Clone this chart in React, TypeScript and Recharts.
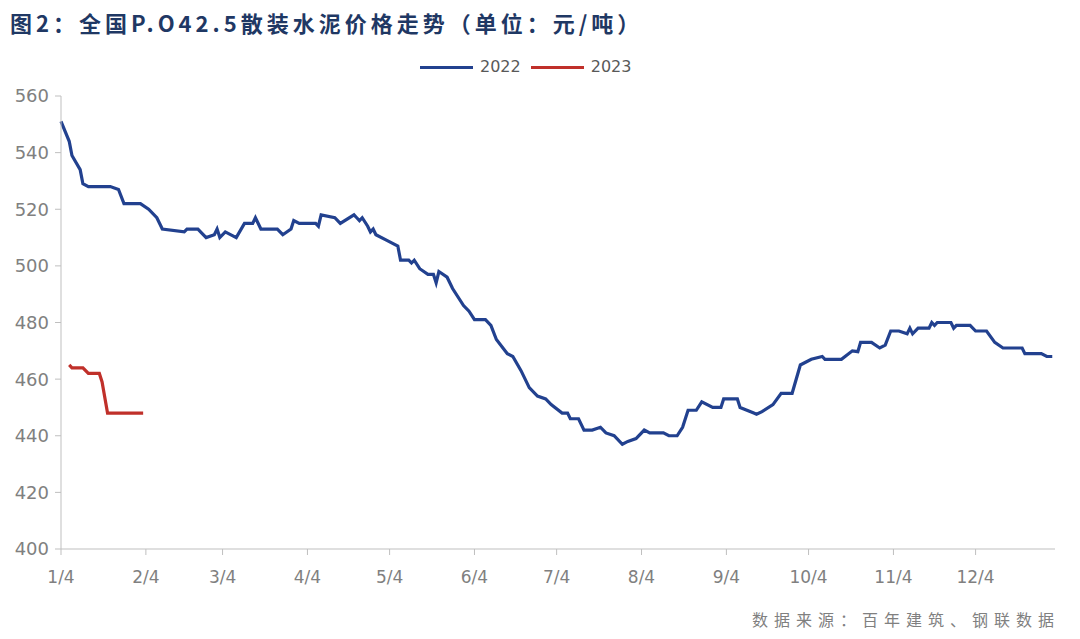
import React from 'react';
import { LineChart, Line, XAxis, YAxis } from 'recharts';

const days2022 = [0,3,4,7,8,10,18,21,23,29,32,35,37,45,46,50,53,56,57,58,60,64,67,70,71,73,79,81,84,85,87,93,94,95,100,102,107,108,109,110,112,113,114,115,119,123,124,127,128,129,131,134,136,137,138,141,143,147,149,151,155,157,159,163,165,168,171,174,177,179,183,185,186,189,191,194,197,199,202,205,207,210,213,215,220,222,225,227,229,232,234,238,241,242,247,248,253,254,256,260,263,267,270,274,278,279,285,289,291,292,296,299,301,303,306,309,310,311,313,317,318,319,320,325,326,327,332,334,338,341,344,351,352,358,360,362];
const prices2022 = [551,544,539,534,529,528,528,527,522,522,520,517,513,512,513,513,510,511,513,510,512,510,515,515,517,513,513,511,513,516,515,515,514,518,517,515,518,517,516,517,514,512,513,511,509,507,502,502,501,502,499,497,497,494,498,496,492,486,484,481,481,479,474,469,468,463,457,454,453,451,448,448,446,446,442,442,443,441,440,437,438,439,442,441,441,440,440,443,449,449,452,450,450,453,453,450,448,447.6,448.5,451,455,455,465,467,468,467,467,470,469.7,473,473,471,472,477,477,476,478,476,478,478,480,479,480,480,478,479,479,477,477,473,471,471,469,469,468,468];

const days2023 = [3,4,8,10,14,15,17,30];
const prices2023 = [465,464,464,462,462,459,448,448];

const tickDays = [0,31,59,90,120,151,181,212,243,273,304,334];
const tickLabels = ['1/4','2/4','3/4','4/4','5/4','6/4','7/4','8/4','9/4','10/4','11/4','12/4'];
const yTicks = [400,420,440,460,480,500,520,540,560];

const seriesNames = ['2022', '2023'];
const seriesColors = ['#22418f', '#c0302a'];

const data2022 = days2022.map((d, i) => ({ day: d, value: prices2022[i] }));
const data2023 = days2023.map((d, i) => ({ day: d, value: prices2023[i] }));

const labelOf = (v: number) => {
  const i = tickDays.indexOf(v);
  return i >= 0 ? tickLabels[i] : '';
};

export default function App() {
  return (
    <div style={{ position: 'absolute', left: 0, top: 0, width: 1080, height: 639, background: '#fff' }}>
      <div style={{ position: 'absolute', left: 10, top: 10, fontFamily: '"Noto Sans CJK SC", sans-serif', fontWeight: 700, fontSize: 22, lineHeight: '24px', letterSpacing: 4, color: '#1f3864', whiteSpace: 'nowrap' }}>
        图2：全国P.O42.5散装水泥价格走势（单位：元/吨）
      </div>
      <div style={{ position: 'absolute', left: 420, top: 57, display: 'flex', alignItems: 'center', fontFamily: 'DejaVu Sans, sans-serif', fontSize: 16, lineHeight: '20px', color: '#595959' }}>
        {seriesNames.map((n, i) => (
          <div key={n} style={{ display: 'flex', alignItems: 'center', marginRight: 10 }}>
            <div style={{ width: 53, height: 3, background: seriesColors[i], marginRight: 7 }} />
            <span>{n}</span>
          </div>
        ))}
      </div>
      <LineChart width={1080} height={639} margin={{ top: 96, right: 25, bottom: 60, left: 0 }}>
        <XAxis
          dataKey="day"
          type="number"
          domain={[0, 363]}
          ticks={tickDays}
          tickFormatter={labelOf}
          allowDuplicatedCategory={false}
          stroke="#bfbfbf"
          tickSize={6}
          height={30}
          tick={{ fill: '#808080', fontSize: 17, fontFamily: 'DejaVu Sans, sans-serif' }}
          tickMargin={16}
        />
        <YAxis
          type="number"
          domain={[400, 560]}
          ticks={yTicks}
          width={61}
          stroke="#bfbfbf"
          tickSize={6}
          interval={0}
          tick={{ fill: '#808080', fontSize: 18, fontFamily: 'DejaVu Sans, sans-serif' }}
          tickMargin={6}
        />
        <Line data={data2022} dataKey="value" name={seriesNames[0]} stroke={seriesColors[0]} strokeWidth={3.2} dot={false} isAnimationActive={false} type="linear" />
        <Line data={data2023} dataKey="value" name={seriesNames[1]} stroke={seriesColors[1]} strokeWidth={3.2} dot={false} isAnimationActive={false} type="linear" />
      </LineChart>
      <div style={{ position: 'absolute', left: 752, top: 609, fontFamily: '"Noto Sans CJK SC", sans-serif', fontSize: 16, lineHeight: '20px', letterSpacing: 6, color: '#808080', whiteSpace: 'nowrap' }}>
        数据来源：百年建筑、钢联数据
      </div>
    </div>
  );
}
